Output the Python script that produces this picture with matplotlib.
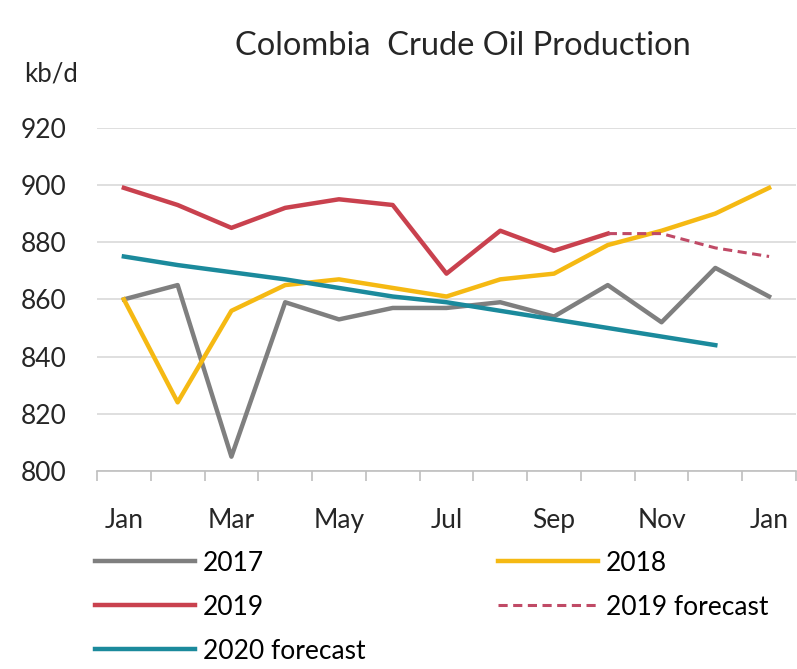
import numpy as np
import matplotlib
matplotlib.use("Agg")
import matplotlib.pyplot as plt
from matplotlib.ticker import FixedLocator

plt.rcParams['font.family'] = ['Lato', 'DejaVu Sans']

# monthly categories, Jan .. next Jan
months = ["Jan", "Feb", "Mar", "Apr", "May", "Jun", "Jul",
          "Aug", "Sep", "Oct", "Nov", "Dec", "Jan"]
tick_labels = ["Jan", "", "Mar", "", "May", "", "Jul",
               "", "Sep", "", "Nov", "", "Jan"]

# kb/d
y2017 = [860, 865, 805, 859, 853, 857, 857, 859, 854, 865, 852, 871, 861]
y2018 = [860, 824, 856, 865, 867, 864, 861, 867, 869, 879, 884, 890, 899]
y2019 = [899, 893, 885, 892, 895, 893, 869, 884, 877, 883]
y2019_fc = [883, 883, 878, 875]      # Oct .. Jan
y2020_fc = [875, 872, 869.5, 867, 864, 861, 859, 856, 853, 850, 847, 844]

x = np.arange(len(months))
TXT = '#262626'

fig = plt.figure(figsize=(7.97, 6.69), dpi=100)
ax = fig.add_axes([0.1217, 0.296, 0.877, 0.513])

lw = 3.2
l17, = ax.plot(x, y2017, color='#7f7f7f', lw=lw, label='2017')
l18, = ax.plot(x, y2018, color='#f5b913', lw=lw, label='2018')
l19, = ax.plot(x[:len(y2019)], y2019, color='#c9414e', lw=lw, label='2019')
l19f, = ax.plot(x[len(y2019) - 1:], y2019_fc, color='#c04a66', lw=2.2,
                ls=(0, (3, 1.8)), label='2019 forecast')
l20, = ax.plot(x[:len(y2020_fc)], y2020_fc, color='#1b8a9c', lw=lw,
               label='2020 forecast')

ax.set_xlim(-0.5, len(months) - 0.5)
ax.set_ylim(800, 920)
ax.set_yticks(np.arange(800, 921, 20))
ax.yaxis.grid(True, color='#d9d9d9', lw=1.2)
ax.set_axisbelow(True)
for s in ['top', 'right', 'left']:
    ax.spines[s].set_visible(False)
ax.spines['bottom'].set_color('#bfbfbf')
ax.spines['bottom'].set_linewidth(1.2)

ax.set_xticks(x)
ax.set_xticklabels(tick_labels)
ax.tick_params(axis='x', length=0, pad=27, labelsize=19, colors=TXT)
ax.xaxis.set_minor_locator(FixedLocator(np.arange(-0.5, len(months), 1)))
ax.tick_params(axis='x', which='minor', length=7, color='#bfbfbf', width=1.2)
ax.tick_params(axis='y', length=0, pad=55, labelsize=19, colors=TXT)
for t in ax.get_yticklabels():
    t.set_horizontalalignment('left')

fig.text(0.581, 0.931, "Colombia  Crude Oil Production", ha='center',
         va='center', fontsize=23.5, color=TXT)
fig.text(0.030, 0.889, "kb/d", ha='left', va='center', fontsize=18.5,
         color=TXT)

fig.legend(handles=[l17, l19, l20, l18, l19f], ncol=2, loc='upper left',
           bbox_to_anchor=(0.119, 0.177), frameon=False, fontsize=19,
           handlelength=3.8, handletextpad=0.3, columnspacing=5.0,
           labelspacing=0.72, borderaxespad=0, borderpad=0)

fig.savefig("out.png", dpi=100)
